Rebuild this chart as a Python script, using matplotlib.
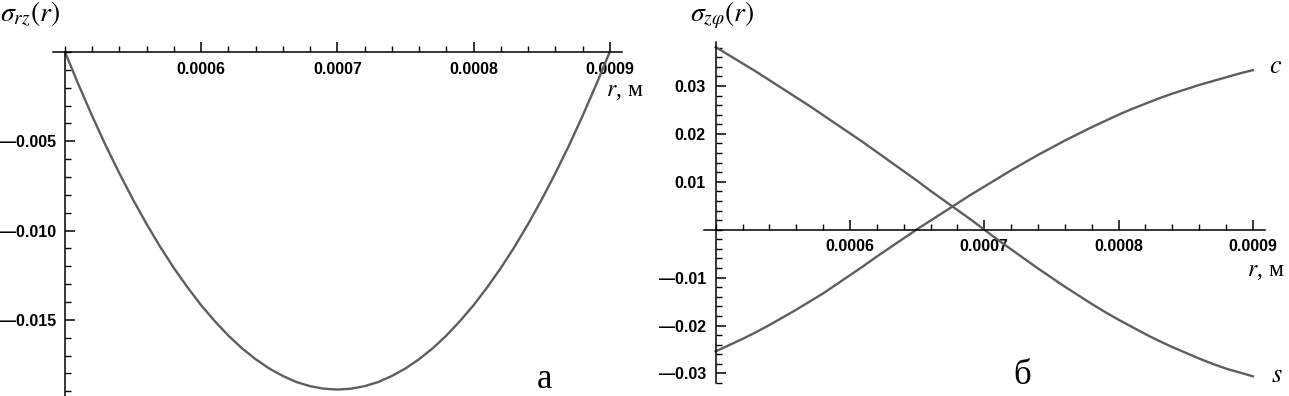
import matplotlib
matplotlib.use("Agg")
import matplotlib.pyplot as plt
import numpy as np
from matplotlib.ticker import FuncFormatter

plt.rcParams['mathtext.fontset'] = 'stix'
plt.rcParams['font.family'] = ['Liberation Serif', 'DejaVu Serif']

# radius, m (step 0.00001)
r = [0.000500, 0.000510, 0.000520, 0.000530, 0.000540, 0.000550, 0.000560,
     0.000570, 0.000580, 0.000590, 0.000600, 0.000610, 0.000620, 0.000630,
     0.000640, 0.000650, 0.000660, 0.000670, 0.000680, 0.000690, 0.000700,
     0.000710, 0.000720, 0.000730, 0.000740, 0.000750, 0.000760, 0.000770,
     0.000780, 0.000790, 0.000800, 0.000810, 0.000820, 0.000830, 0.000840,
     0.000850, 0.000860, 0.000870, 0.000880, 0.000890, 0.000900]

# panel a: sigma_rz(r)
sigma_rz = [0.0, -0.00184, -0.00359, -0.00525, -0.00680, -0.00827, -0.00964,
            -0.01092, -0.01210, -0.01318, -0.01418, -0.01507, -0.01588,
            -0.01659, -0.01720, -0.01772, -0.01814, -0.01848, -0.01871,
            -0.01885, -0.01890, -0.01885, -0.01871, -0.01848, -0.01814,
            -0.01772, -0.01720, -0.01659, -0.01588, -0.01507, -0.01418,
            -0.01318, -0.01210, -0.01092, -0.00964, -0.00827, -0.00680,
            -0.00525, -0.00359, -0.00184, 0.0]

# panel b: sigma_zphi(r), curves c and s
sigma_c = [-0.0254, -0.0241, -0.0228, -0.0214, -0.0199, -0.0183, -0.0167,
           -0.0150, -0.0133, -0.0114, -0.0095, -0.0076, -0.0056, -0.0037,
           -0.0018, 0.0001, 0.0019, 0.0037, 0.0055, 0.0073, 0.0090, 0.0107,
           0.0124, 0.0140, 0.0156, 0.0171, 0.0186, 0.0200, 0.0214, 0.0227,
           0.0240, 0.0252, 0.0263, 0.0274, 0.0284, 0.0293, 0.0302, 0.0310,
           0.0318, 0.0326, 0.0333]
sigma_s = [0.0381, 0.0364, 0.0347, 0.0330, 0.0312, 0.0294, 0.0276, 0.0258,
           0.0239, 0.0220, 0.0201, 0.0182, 0.0162, 0.0142, 0.0122, 0.0102,
           0.0081, 0.0061, 0.0041, 0.0021, 0.0000, -0.0021, -0.0041, -0.0061,
           -0.0081, -0.0100, -0.0119, -0.0137, -0.0155, -0.0172, -0.0188,
           -0.0203, -0.0218, -0.0232, -0.0245, -0.0257, -0.0269, -0.0280,
           -0.0290, -0.0298, -0.0306]

x_ticks = [0.0006, 0.0007, 0.0008, 0.0009]
a_yticks = [-0.015, -0.010, -0.005]
b_yticks = [-0.03, -0.02, -0.01, 0.01, 0.02, 0.03]

W, H = 1289, 396
fig = plt.figure(figsize=(W / 100, H / 100), dpi=100)
line_col = "#5e5e5e"
tick_font = dict(family=['Liberation Sans', 'DejaVu Sans'], weight='bold', size=11.5)


def style_axes(ax, ylo, yhi, dec, ypad, yminor):
    ax.set_xlim(0.000491, 0.000909)
    ax.set_ylim(ylo, yhi)
    for s in ("top", "right"):
        ax.spines[s].set_visible(False)
    ax.spines["bottom"].set_position(("data", 0))
    ax.spines["left"].set_position(("data", 0.0005))
    ax.spines["bottom"].set_linewidth(1.1)
    ax.spines["left"].set_linewidth(1.1)
    ax.set_xticks(x_ticks)
    ax.set_xticks(np.arange(0.0005, 0.00091, 0.00002), minor=True)
    ax.set_yticks(yminor, minor=True)
    ax.xaxis.set_major_formatter(FuncFormatter(lambda v, _: f"{v:.4f}"))
    ax.yaxis.set_major_formatter(
        FuncFormatter(lambda v, _: f"{v:.{dec}f}".replace("-", "\u2014")))
    ax.tick_params(which="major", direction="in", length=7, width=1.1)
    ax.tick_params(which="minor", direction="in", length=4, width=1.0)
    ax.tick_params(axis="x", pad=7)
    ax.tick_params(axis="y", pad=ypad)
    for lab in ax.get_xticklabels() + ax.get_yticklabels():
        lab.set_fontproperties(tick_font)


# panel a
ax1 = fig.add_axes([52.7 / W, 0.0, 569.3 / W, 383 / H])
ax1.plot(r, sigma_rz, color=line_col, lw=1.7)
ax1.set_yticks(a_yticks)
style_axes(ax1, -0.01926, 0.00218, 3, 6, np.arange(-0.019, 0.0001, 0.001))
ax1.spines["left"].set_bounds(-0.01926, 0.0)

# panel b
ax2 = fig.add_axes([703.6 / W, 13 / H, 561.4 / W, 341 / H])
ax2.plot(r, sigma_c, color=line_col, lw=1.7)
ax2.plot(r, sigma_s, color=line_col, lw=1.7)
ax2.set_yticks(b_yticks)
style_axes(ax2, -0.03188, 0.03917, 2, 7, np.arange(-0.032, 0.0385, 0.002))


def ftext(x, y, s, **kw):
    fig.text(x / W, 1 - y / H, s, **kw)


ftext(0, 14, r"$\sigma_{rz}(r)$", fontsize=20, ha="left", va="center")
ftext(690, 15, r"$\sigma_{z\varphi}(r)$", fontsize=20, ha="left", va="center")
ftext(606, 92, r"$r$, м", fontsize=17, ha="left", va="center")
ftext(1247, 272, r"$r$, м", fontsize=17, ha="left", va="center")
ftext(545, 380, "а", fontsize=25, ha="center", va="center")
ftext(1022, 375, "б", fontsize=25, ha="center", va="center")
ftext(1276, 67, r"$c$", fontsize=19, ha="center", va="center")
ftext(1277, 376, r"$s$", fontsize=19, ha="center", va="center")

fig.savefig("out.png", dpi=100, facecolor="white")
